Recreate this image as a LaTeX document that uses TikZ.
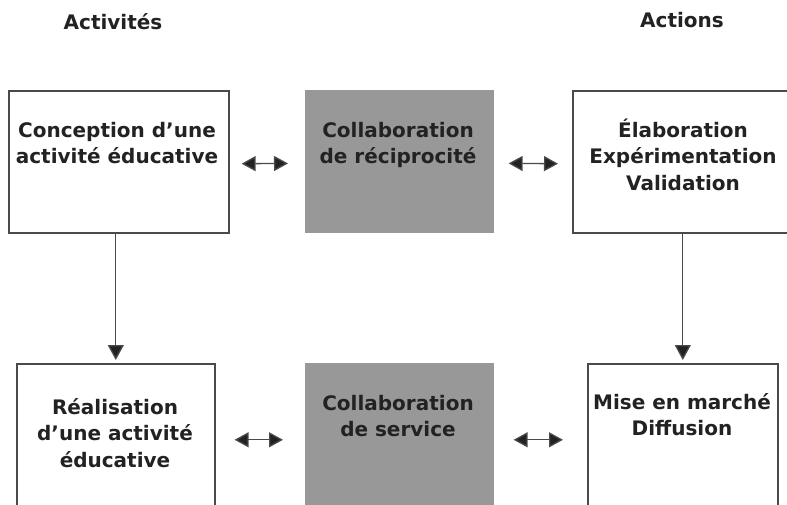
\documentclass[tikz,border=0pt]{standalone}
\usepackage{fontspec}
\setmainfont{DejaVu Sans}
\usetikzlibrary{arrows.meta}
\definecolor{txtgray}{HTML}{222222}
\definecolor{linegray}{HTML}{4A4A4A}
\definecolor{tipgray}{HTML}{222222}
\definecolor{fillgray}{HTML}{989898}
\tikzset{
    box/.style={draw=linegray, line width=1.6pt, rectangle, anchor=north west, inner sep=0pt},
    graybox/.style={box, fill=fillgray, draw=fillgray},
    boxtext/.style={anchor=base, align=center, inner sep=0pt, text=txtgray,
        font=\fontsize{20}{26.5}\selectfont\bfseries},
    link/.style={draw=linegray, line width=1.3pt, {Triangle[length=14pt,width=15pt,fill=tipgray]}-{Triangle[length=14pt,width=15pt,fill=tipgray]}},
    down/.style={draw=linegray, line width=1.3pt, -{Triangle[length=15pt,width=16pt,fill=tipgray]}}
}
\begin{document}
\begin{tikzpicture}[x=1pt,y=-1pt]
    \useasboundingbox (0,0) rectangle (787,504);
    \clip (0,0) rectangle (787,504);
    \node [boxtext] (act) at (113,29) {Activités};
    \node [boxtext] (acn) at (682,27) {Actions};
    \node [box, minimum width=220pt, minimum height=142pt] (b1) at (8,90) {};
    \node [graybox, minimum width=187pt, minimum height=141pt] (g1) at (305,90) {};
    \node [box, minimum width=240pt, minimum height=142pt] (b3) at (572,90) {};
    \node [box, minimum width=198pt, minimum height=152pt] (b2) at (16,363) {};
    \node [graybox, minimum width=187pt, minimum height=152pt] (g2) at (305,363) {};
    \node [box, minimum width=190pt, minimum height=152pt] (b4) at (587,363) {};
    \node [boxtext] (t1) at (117,163.5) {Conception d’une\\activité éducative};
    \node [boxtext] (tg1) at (398,163.5) {Collaboration\\de réciprocité};
    \node [boxtext] (t3) at (683,190) {Élaboration\\Expérimentation\\Validation};
    \node [boxtext] (t2) at (115,467) {Réalisation\\d’une activité\\éducative};
    \node [boxtext] (tg2) at (398,436.5) {Collaboration\\de service};
    \node [boxtext] (t4) at (682,435.5) {Mise en marché\\Diffusion};
    \draw [link, shorten <=12pt, shorten >=17pt] ([yshift=-2pt]b1.east) -- ([yshift=-2pt]g1.west);
    \draw [link, shorten <=15pt, shorten >=14pt] ([yshift=-2pt]g1.east) -- ([yshift=-2pt]b3.west);
    \draw [link, shorten <=19pt, shorten >=22pt] (b2.east) -- (g2.west);
    \draw [link, shorten <=20pt, shorten >=24pt] (g2.east) -- (b4.west);
    \draw [down, shorten >=3pt] (b2.north |- b1.south) -- (b2.north);
    \draw [down, shorten >=3pt] (b4.north |- b3.south) -- (b4.north);
\end{tikzpicture}
\end{document}
